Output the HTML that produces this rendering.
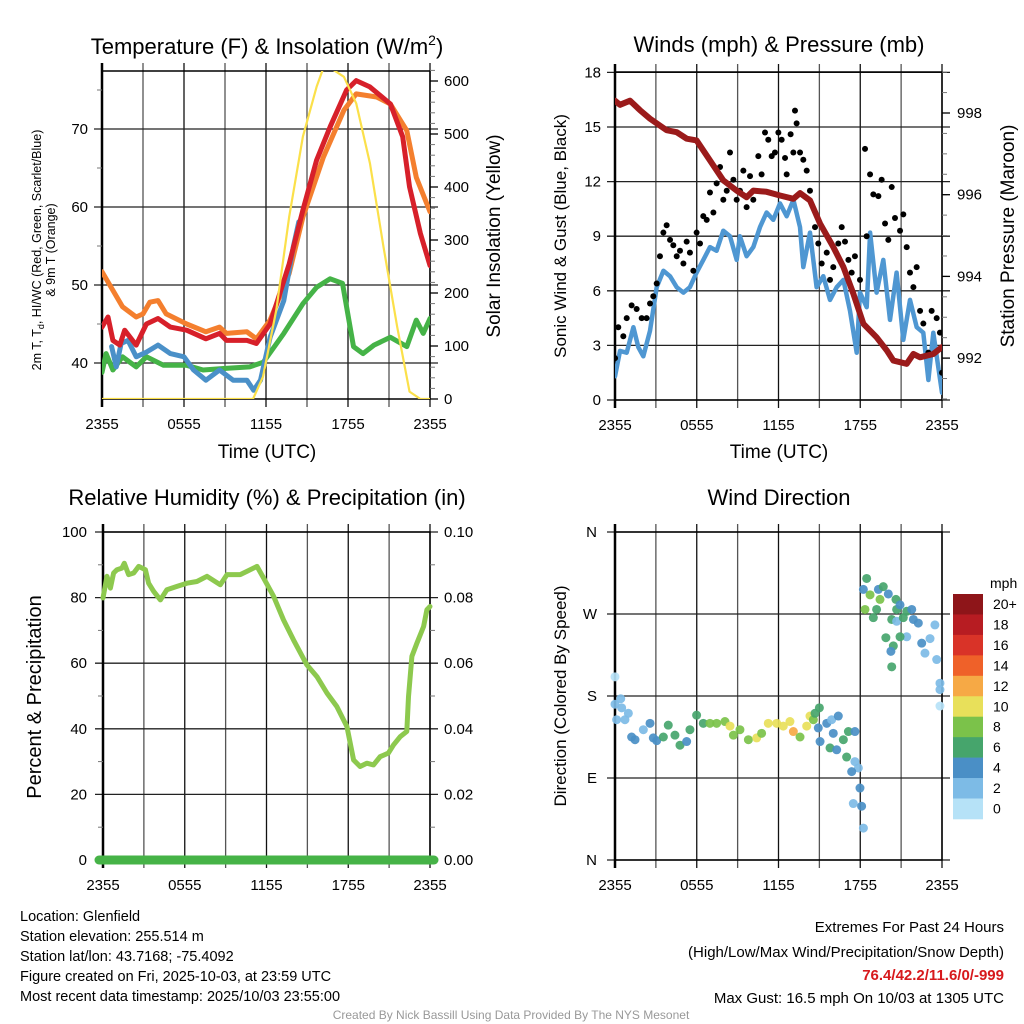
<!DOCTYPE html>
<html><head><meta charset="utf-8">
<style>
html,body{margin:0;padding:0;background:#fff;}
svg{display:block;font-family:"Liberation Sans",sans-serif;}
</style></head>
<body>
<svg id="root" width="1024" height="1024" viewBox="0 0 1024 1024" xmlns="http://www.w3.org/2000/svg">
<defs>
<clipPath id="c1"><rect x="102" y="71" width="328" height="328"/></clipPath>
<clipPath id="c2"><rect x="615" y="72" width="327" height="328"/></clipPath>
<clipPath id="c3"><rect x="90" y="520" width="355" height="350"/></clipPath>
<clipPath id="c4"><rect x="605" y="525" width="345" height="342"/></clipPath>
</defs>
<g id="g1"></g>
<g id="g2"></g>
<g id="g3"></g>
<g id="g4"></g>

<text x="267" y="54" font-size="22" text-anchor="middle">Temperature (F) &amp; Insolation (W/m<tspan font-size="14" dy="-9">2</tspan><tspan dy="9">)</tspan></text>
<text x="779" y="52" font-size="22" text-anchor="middle">Winds (mph) &amp; Pressure (mb)</text>
<text x="267" y="505" font-size="22" text-anchor="middle">Relative Humidity (%) &amp; Precipitation (in)</text>
<text x="779" y="505" font-size="22" text-anchor="middle">Wind Direction</text>

<text transform="translate(41,250) rotate(-90)" font-size="12.5" text-anchor="middle">2m T, T<tspan font-size="9" dy="3">d</tspan><tspan dy="-3">, HI/WC (Red, Green, Scarlet/Blue)</tspan></text>
<text transform="translate(55,250) rotate(-90)" font-size="12.5" text-anchor="middle">&amp; 9m T (Orange)</text>
<text transform="translate(500,236) rotate(-90)" font-size="19" text-anchor="middle">Solar Insolation (Yellow)</text>
<text x="267" y="458" font-size="19" text-anchor="middle">Time (UTC)</text>
<text transform="translate(566,236) rotate(-90)" font-size="17" text-anchor="middle">Sonic Wind &amp; Gust (Blue, Black)</text>
<text transform="translate(1014,236) rotate(-90)" font-size="19" text-anchor="middle">Station Pressure (Maroon)</text>
<text x="779" y="458" font-size="19" text-anchor="middle">Time (UTC)</text>
<text transform="translate(41,697) rotate(-90)" font-size="20" text-anchor="middle">Percent &amp; Precipitation</text>
<text transform="translate(566,696) rotate(-90)" font-size="17" text-anchor="middle">Direction (Colored By Speed)</text>

<g id="cbar"></g>
<text x="990" y="588" font-size="14">mph</text>

<g font-size="14.5">
<text x="20" y="921">Location: Glenfield</text>
<text x="20" y="941">Station elevation: 255.514 m</text>
<text x="20" y="961">Station lat/lon: 43.7168; -75.4092</text>
<text x="20" y="981">Figure created on Fri, 2025-10-03, at 23:59 UTC</text>
<text x="20" y="1001">Most recent data timestamp: 2025/10/03 23:55:00</text>
</g>
<g font-size="15" text-anchor="end">
<text x="1004" y="932">Extremes For Past 24 Hours</text>
<text x="1004" y="957">(High/Low/Max Wind/Precipitation/Snow Depth)</text>
<text x="1004" y="980" fill="#d7191c" font-weight="bold">76.4/42.2/11.6/0/-999</text>
<text x="1004" y="1003">Max Gust: 16.5 mph On 10/03 at 1305 UTC</text>
</g>
<text x="511" y="1019" font-size="12" fill="#999" text-anchor="middle">Created By Nick Bassill Using Data Provided By The NYS Mesonet</text>
</svg>
<script>
// ---- Temperature panel data (hours since 2355, degF) ----
const orangeH=[0,1.5,2.5,3.0,3.5,4.1,4.7,6.2,7.6,8.6,9.1,10.6,11.3,12.3,13.7,14.7,16.2,17.7,18.6,20.1,21.1,22.3,23.0,24];
const orangeV=[51.7,47.2,45.9,46.3,47.8,48.0,46.3,45.0,44.0,44.6,43.8,44.0,43.1,45.5,51.5,58.7,66.4,72.4,74.5,74.1,73.2,69.8,63.8,59.4];
const redH=[0,0.44,0.8,1.3,1.66,2.5,3.25,4.1,5.0,6.2,7.6,8.6,9.1,10.6,11.3,12.3,13.7,14.7,15.7,16.7,17.9,18.6,19.6,21.1,22.0,22.5,23.3,24];
const redV=[44.6,45.9,42.9,42.3,44.2,42.3,45.0,45.7,44.6,44.2,43.1,43.8,42.9,42.9,42.5,45.0,52.7,59.6,66.0,70.3,75.0,76.2,75.4,73.2,69.0,62.6,56.6,52.5];
const greenH=[0,0.3,0.8,1.5,2.5,3.25,4.5,6.2,7.4,8.9,10.8,11.8,13.3,14.7,15.7,16.7,17.6,18.4,19.1,19.9,21.1,22.3,23.0,23.5,24];
const greenV=[38.8,41.2,39.1,40.8,39.5,40.8,39.7,39.7,39.1,39.3,39.5,40.1,43.8,47.6,49.7,50.8,50.2,42.1,41.2,42.3,43.3,42.1,45.5,43.8,45.7];
const blueH=[0.7,1.05,1.4,1.9,2.5,3.25,4.1,5.0,6.0,6.7,7.6,8.6,9.6,10.6,11.1,11.6,12.3,13.3,14.0,14.4];
const blueV=[42.1,39.5,42.5,42.9,40.8,41.4,42.3,41.2,40.8,39.1,37.8,39.1,37.8,37.8,36.5,37.8,43.3,48.0,54.9,58.1];
const solarH=[0,11.05,11.78,12.75,13.7,14.7,15.7,16.2,16.7,17.7,18.6,19.6,20.6,21.6,22.5,23.3,24];
const solarV=[0,0,42,168,344,495,589,625,625,608,558,445,287,136,14,0,0];
const tempTicks=[40,50,60,70];
const solarTicks=[0,100,200,300,400,500,600];
const timeLabels=["2355","0555","1155","1755","2355"];
// ---- Winds panel data ----
const windH=[0,0.37,0.86,1.35,1.71,2.08,2.57,3.06,3.55,4.04,4.53,5.02,5.5,5.99,6.48,6.97,7.46,7.95,8.44,8.93,9.17,9.66,10.15,10.64,11.13,11.62,12.11,12.6,13.09,13.58,13.82,14.31,14.8,15.29,15.78,16.27,16.76,17.25,17.74,17.98,18.47,18.72,19.2,19.69,20.18,20.67,21.16,21.65,22.14,22.63,23.0,23.36,24];
const windV=[1.3,2.7,2.6,4.0,2.9,2.4,3.8,6.2,7.1,6.8,6.2,5.9,6.2,7.0,7.7,8.4,8.2,9.3,9.0,7.7,9.0,7.9,8.4,9.5,10.3,9.9,10.8,10.1,11.0,9.5,7.3,9.2,6.2,6.8,5.5,6.2,6.6,4.9,2.6,5.9,5.1,9.2,5.9,7.7,4.4,7.0,3.3,5.5,4.0,3.7,1.1,3.7,0.4];
const gustH=[0,0.24,0.61,0.86,1.22,1.59,1.96,2.32,2.57,2.81,3.06,3.30,3.55,3.79,4.04,4.28,4.53,4.77,5.02,5.26,5.50,5.75,5.99,6.24,6.48,6.73,6.97,7.22,7.46,7.71,7.95,8.20,8.44,8.69,8.93,9.17,9.42,9.66,9.91,10.15,10.52,10.76,11.01,11.25,11.50,11.74,11.99,12.23,12.48,12.60,12.89,13.09,13.21,13.33,13.58,13.82,14.07,14.31,14.68,14.92,15.17,15.54,15.78,16.02,16.39,16.64,16.88,17.13,17.37,17.61,17.98,18.35,18.47,18.72,18.96,19.33,19.57,19.82,20.06,20.31,20.55,20.92,21.16,21.41,21.65,21.90,22.14,22.39,22.63,23.00,23.24,23.61,23.85,24];
const gustV=[2.3,4.0,3.5,4.5,5.2,5.0,4.5,4.5,5.3,5.7,6.4,7.9,9.2,9.6,8.8,8.5,7.9,8.2,7.5,8.7,8.1,7.1,9.2,8.6,10.1,9.9,11.4,10.3,11.9,12.8,11.0,11.5,13.6,12.1,11.0,11.5,12.6,10.6,12.3,11.0,13.4,12.4,14.7,14.3,13.4,13.6,14.7,14.3,13.3,12.4,14.6,13.6,15.9,15.2,13.6,13.2,12.6,11.5,9.5,8.6,7.5,8.1,6.6,7.3,8.6,9.5,8.7,7.7,7.0,7.9,6.6,13.8,9.0,12.4,11.3,11.2,12.1,9.7,8.8,11.7,10.0,9.3,10.2,8.4,7.0,6.2,7.3,4.9,4.2,2.6,4.9,4.5,3.7,1.5];
const presH=[0,0.37,1.1,1.83,2.57,3.79,4.53,5.26,5.99,6.97,7.95,8.93,9.66,10.15,11.13,12.11,13.09,13.58,14.31,15.05,16.02,16.76,17.49,18.23,19.2,19.94,20.43,21.41,21.9,22.39,23.36,24];
const presV=[998.3,998.2,998.3,998.07,997.86,997.58,997.53,997.37,997.33,996.84,996.35,996.1,995.94,996.1,996.07,995.98,995.9,996.04,995.86,995.29,994.72,994.23,993.58,992.84,992.51,992.19,991.94,991.86,992.1,992.02,992.1,992.27];
const windTicks=[0,3,6,9,12,15,18];
const presTicks=[992,994,996,998];
// ---- Humidity panel data ----
const rhH=[0,0.29,0.54,0.78,1.03,1.39,1.56,1.88,2.25,2.62,3.11,3.35,3.72,4.21,4.69,5.43,6.16,6.89,7.63,8.61,9.1,10.07,10.56,11.3,11.78,12.52,13.25,13.98,14.96,15.7,16.43,17.16,17.9,18.39,18.87,19.36,19.85,20.34,20.95,21.32,21.81,22.3,22.42,22.67,23.04,23.53,23.77,24];
const rhV=[79.9,86.5,82.9,87.5,88.5,89.0,90.5,87.0,87.5,89.5,88.5,84.4,81.9,79.3,82.4,83.4,84.4,84.9,86.5,83.9,87.0,87.0,88.0,89.5,86.0,80.4,73.2,67.1,59.5,55.9,50.9,46.8,40.7,30.5,28.5,29.5,29.0,31.5,32.6,35.1,37.6,39.2,49.8,62.1,66.1,71.2,76.3,77.3];
const precipH=[0,24];
const precipV=[0,0];
const rhTicks=[0,20,40,60,80,100];
const precipTicks=["0.00","0.02","0.04","0.06","0.08","0.10"];
// ---- Wind direction panel data ----
const dirH=[0,0,0.42,0.12,0.49,0.98,0.73,1.22,1.47,2.08,2.57,2.81,3.06,3.55,3.91,4.4,4.77,5.26,5.5,5.99,6.48,6.97,7.46,8.07,8.44,8.69,9.17,9.79,10.4,10.76,11.25,11.87,12.35,12.84,13.09,13.58,14.07,14.31,14.56,14.68,15.0,14.92,15.05,15.54,15.9,16.39,16.02,15.78,16.27,16.76,17.13,17.61,17.0,17.61,17.86,17.37,17.98,17.49,18.1,18.23,18.23,18.47,18.72,18.35,18.96,19.33,19.69,19.45,19.2,20.06,20.62,20.67,20.92,20.31,20.67,21.16,21.41,21.78,21.9,22.26,21.41,20.92,19.88,20.43,20.25,20.31,22.51,23.12,22.75,23.48,23.61,23.85,23.85,23.85];
const dirV=[201,171,177,154,167,161,154,135,132,143,150,134,131,135,148,137,126,130,143,159,150,150,150,152,147,137,143,132,134,139,150,150,147,152,141,135,147,158,154,161,167,145,130,150,154,158,139,123,121,132,141,141,113,108,101,97,79,62,59,35,297,309,291,275,266,297,300,286,275,292,286,275,280,264,262,266,273,275,264,260,245,245,244,235,229,212,238,243,227,258,220,194,187,169];
const dirSpd=[1,3,3,3,3,3,3,5,5,3,5,5,5,7,7,7,7,5,7,7,7,9,9,9,11,9,9,9,11,9,11,11,11,11,13,9,11,11,9,7,7,5,5,5,3,5,5,7,5,7,7,5,7,3,3,5,5,3,5,3,5,7,9,9,7,5,7,9,7,5,7,7,5,7,3,7,7,5,5,5,3,7,7,7,5,7,5,3,3,3,3,3,3,1];
const dirTicks=["N","E","S","W","N"];
const cbLabels=["20+","18","16","14","12","10","8","6","4","2","0"];
const cbColors=["#8e1519","#b71c22","#d93328","#ef6129","#f6a945","#e8e05a","#7bc24a","#46a56c","#4a8fc6","#7dbbe6","#b6e2f7"];

const NS="http://www.w3.org/2000/svg";
function mk(parent,tag,attrs){const e=document.createElementNS(NS,tag);for(const k in attrs)e.setAttribute(k,attrs[k]);parent.appendChild(e);return e;}
const g1=document.getElementById('g1'),g2=document.getElementById('g2'),g3=document.getElementById('g3'),g4=document.getElementById('g4');

function xS(p,h){return p.x0+h/24*(p.x1-p.x0);}
const P1={x0:102,x1:430,y0:71,y1:399},P2={x0:615,x1:942,y0:72,y1:400},P3={x0:103,x1:430,y0:532,y1:860},P4={x0:615,x1:942,y0:532,y1:860};
const tY=v=>363-(v-40)*7.8, sY=v=>399-v*0.53, wY=v=>400-v*18.2, pY=v=>113+(998-v)*40.85, rY=v=>860-v*3.28, prY=v=>860-v*3280, dY=v=>860-v*328/360;

function frame(g,p,yTickPos,name){
  for(let i=0;i<=8;i++){const x=p.x0+i*(p.x1-p.x0)/8;
    const l=mk(g,'line',{x1:x,x2:x,y1:p.y0-8,y2:p.y1+8,stroke:i%2?'#555':'#111','stroke-width':1.3});
    
    }
  yTickPos.forEach(y=>{const l=mk(g,'line',{x1:p.x0-8,x2:p.x1+8,y1:y,y2:y,stroke:'#222','stroke-width':1.3});
    
    });
  const r=mk(g,'rect',{x:p.x0,y:p.y0,width:p.x1-p.x0,height:p.y1-p.y0,fill:'none',stroke:'#000','stroke-width':1.5});
  
  
  mk(g,'line',{x1:p.x0,x2:p.x0,y1:p.y0-8,y2:p.y1+8,stroke:'#000','stroke-width':2.5});
  timeLabels.forEach((t,i)=>{const tx=mk(g,'text',{x:xS(p,i*6),y:p.y1+30,'font-size':15,'text-anchor':'middle'});tx.textContent=t;
    
    });
}
function minor(g,p,ys,side){ys.forEach(y=>{const x=side==='r'?p.x1:p.x0;mk(g,'line',{x1:x,x2:side==='r'?x+5:x-5,y1:y,y2:y,stroke:'#777','stroke-width':1});});}
function line(g,p,clip,H,V,yf,color,w,name){
  const d=H.map((h,i)=>(i?'L':'M')+xS(p,h).toFixed(1)+','+yf(V[i]).toFixed(1)).join('');
  const e=mk(g,'path',{d:d,fill:'none',stroke:color,'stroke-width':w,'stroke-linejoin':'round','stroke-linecap':'round','clip-path':'url(#'+clip+')'});
  
  
  return e;}
function ylab(g,x,y,t,anchor,name){const e=mk(g,'text',{x:x,y:y+5,'font-size':15,'text-anchor':anchor});e.textContent=t;
  
  }

// Panel 1
frame(g1,P1,tempTicks.map(tY),'temp');
minor(g1,P1,[45,55,65,75].map(tY),'l');
const sm=[];for(let v=0;v<=620;v+=20)sm.push(sY(v));minor(g1,P1,sm,'r');
solarTicks.forEach(v=>{mk(g1,'line',{x1:P1.x1,x2:P1.x1+8,y1:sY(v),y2:sY(v),stroke:'#000','stroke-width':1.3});ylab(g1,P1.x1+14,sY(v),String(v),'start','solar-tick-label');});
tempTicks.forEach(v=>ylab(g1,P1.x0-14,tY(v),String(v),'end','temp-tick-label'));
line(g1,P1,'c1',orangeH,orangeV,tY,'#f47f2e',5,'9m-temperature-line');
line(g1,P1,'c1',greenH,greenV,tY,'#45b347',5,'dewpoint-line');
line(g1,P1,'c1',blueH,blueV,tY,'#4a90c8',5,'wind-chill-line');
line(g1,P1,'c1',redH,redV,tY,'#d7202a',5,'2m-temperature-line');
line(g1,P1,'c1',solarH,solarV,sY,'#fbe04a',2.2,'solar-insolation-line');

// Panel 2
frame(g2,P2,windTicks.map(wY),'wind');
const pm=[];for(let v=991;v<=999;v+=0.5)pm.push(pY(v));minor(g2,P2,pm,'r');
presTicks.forEach(v=>{mk(g2,'line',{x1:P2.x1,x2:P2.x1+8,y1:pY(v),y2:pY(v),stroke:'#000','stroke-width':1.3});ylab(g2,P2.x1+15,pY(v),String(v),'start','pressure-tick-label');});
windTicks.forEach(v=>ylab(g2,P2.x0-14,wY(v),String(v),'end','wind-tick-label'));
line(g2,P2,'c2',windH,windV,wY,'#4f97d2',4.5,'sonic-wind-line');
gustH.forEach((h,i)=>{const c=mk(g2,'circle',{cx:xS(P2,h),cy:wY(gustV[i]),r:3,fill:'#000','clip-path':'url(#c2)'});
  
  });
line(g2,P2,'c2',presH,presV,pY,'#9b1b1b',6,'pressure-line');

// Panel 3
frame(g3,P3,rhTicks.map(rY),'rh');
minor(g3,P3,[10,30,50,70,90].map(rY),'l');minor(g3,P3,[10,30,50,70,90].map(rY),'r');
rhTicks.forEach((v,i)=>{ylab(g3,P3.x0-16,rY(v),String(v),'end','rh-tick-label');ylab(g3,P3.x1+14,rY(v),precipTicks[i],'start','precip-tick-label');});
line(g3,P3,'c3',rhH,rhV,rY,'#8dc94e',5,'relative-humidity-line');
const pl=line(g3,P3,'c3',precipH,precipV,prY,'#46b347',9,'precipitation-line');
pl.setAttribute('d','M'+(xS(P3,precipH[0])-4)+','+prY(precipV[0])+'L'+(xS(P3,precipH[1])+4)+','+prY(precipV[1]));

// Panel 4
frame(g4,P4,[0,90,180,270,360].map(dY),'dir');
dirTicks.forEach((t,i)=>ylab(g4,P4.x0-18,dY(i*90),t,'end','direction-tick-label'));
const spdColor=s=>cbColors[10-Math.min(10,Math.floor(s/2))];
dirH.forEach((h,i)=>{const c=mk(g4,'circle',{cx:xS(P4,h),cy:dY(dirV[i]),r:4.5,fill:spdColor(dirSpd[i]),'fill-opacity':0.92,'clip-path':'url(#c4)'});
  
  });

// Colorbar
const cb=document.getElementById('cbar');
cbColors.forEach((col,i)=>{const r=mk(cb,'rect',{x:953,y:594+i*20.45,width:30,height:20.8,fill:col});
  
  
  const t=mk(cb,'text',{x:993,y:594+i*20.45+15,'font-size':14});t.textContent=cbLabels[i];
  
  });
</script>
</body></html>
